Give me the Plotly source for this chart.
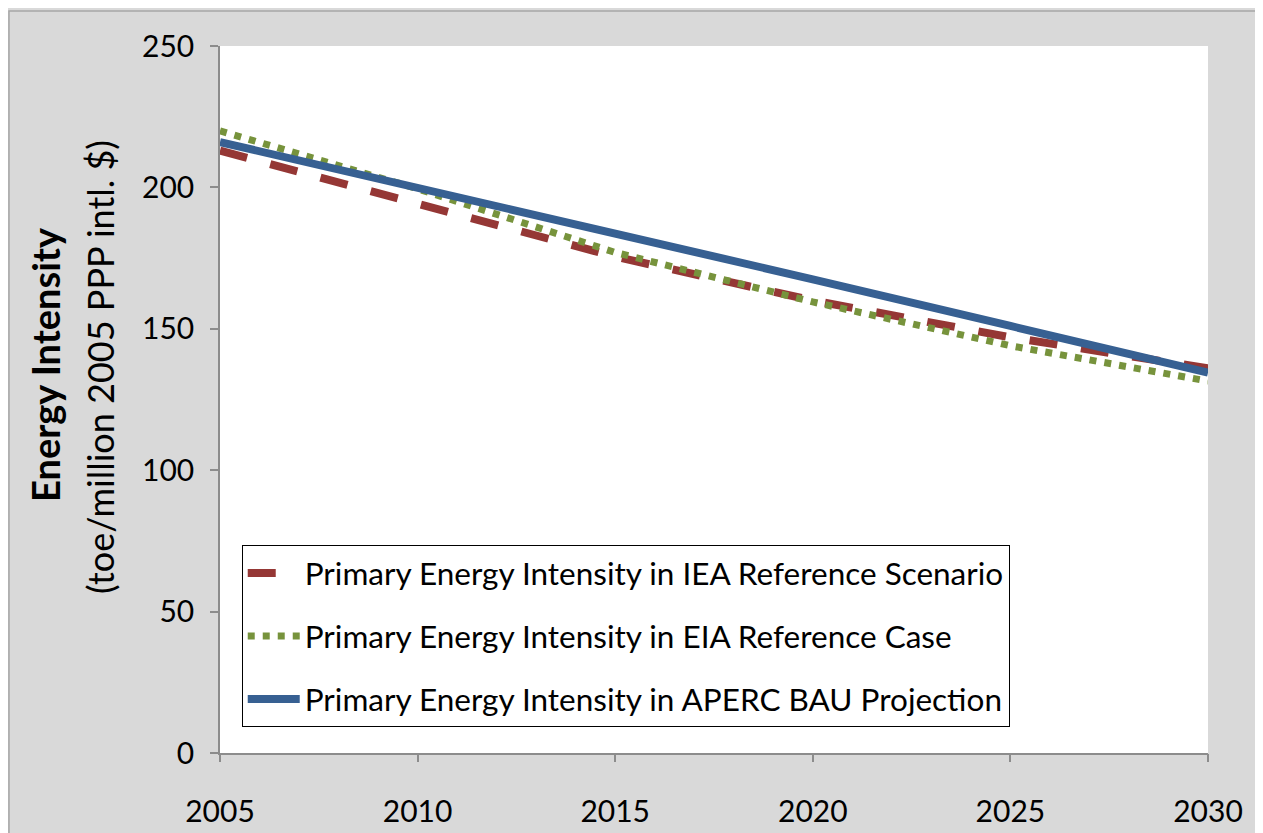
import plotly.graph_objects as go

years = [2005, 2010, 2015, 2020, 2025, 2030]
iea_reference = [213, 194.5, 175.5, 160, 147, 136]
eia_reference = [220, 199.5, 177, 159.5, 144, 131.5]
aperc_bau = [216, 200, 184, 167.5, 151, 134.5]

series_names = [
    "Primary Energy Intensity in IEA Reference Scenario",
    "Primary Energy Intensity in EIA Reference Case",
    "Primary Energy Intensity in APERC BAU Projection",
]
x_ticks = [2005, 2010, 2015, 2020, 2025, 2030]
y_ticks = [0, 50, 100, 150, 200, 250]

FONT = "Lato"
AXIS_GRAY = "#8c8c8c"

fig = go.Figure()
fig.add_trace(go.Scatter(
    x=years, y=iea_reference, name=series_names[0], mode="lines",
    line=dict(color="#953735", width=8, dash="28px,24px"),
    legendgroup="a"))
fig.add_trace(go.Scatter(
    x=years, y=eia_reference, name=series_names[1], mode="lines",
    line=dict(color="#77933C", width=7, dash="7px,8px"),
    legendgroup="b"))
fig.add_trace(go.Scatter(
    x=years, y=aperc_bau, name=series_names[2], mode="lines",
    line=dict(color="#376092", width=8),
    legendgroup="c"))

fig.update_layout(
    width=1263, height=833,
    margin=dict(l=212, r=63, t=38, b=88),
    paper_bgcolor="#d9d9d9",
    plot_bgcolor="#ffffff",
    font=dict(family=FONT, size=29, color="#000000"),
    showlegend=True,
    legend=dict(
        x=0.022, y=0.294, xanchor="left", yanchor="top",
        bgcolor="#ffffff", bordercolor="#000000", borderwidth=1,
        font=dict(family=FONT, size=31.5),
        traceorder="grouped", tracegroupgap=19,
        itemwidth=52,
    ),
    # main x axis: labels placed lower via an invisible long tick
    xaxis=dict(
        range=[2005, 2030], tickvals=x_ticks, showgrid=False, zeroline=False,
        showline=True, linecolor=AXIS_GRAY, linewidth=1.5,
        ticks="outside", ticklen=31, tickcolor="rgba(0,0,0,0)", tickwidth=1.5,
        tickfont=dict(size=30), automargin=False,
    ),
    # overlay x axis: visible short tick marks only
    xaxis2=dict(
        range=[2005, 2030], tickvals=x_ticks, overlaying="x", side="bottom",
        anchor="y", showgrid=False, zeroline=False, showline=False,
        showticklabels=False, automargin=False,
        ticks="outside", ticklen=8, tickcolor=AXIS_GRAY, tickwidth=1.5,
    ),
    yaxis=dict(
        range=[0, 250], tickvals=y_ticks, showgrid=False, zeroline=False,
        showline=True, linecolor=AXIS_GRAY, linewidth=1.5,
        ticks="outside", ticklen=8, tickcolor=AXIS_GRAY, tickwidth=1.5,
        ticklabelstandoff=10, tickfont=dict(size=30), automargin=False,
    ),
    shapes=[dict(
        type="rect", xref="paper", yref="paper",
        x0=-0.2136, x1=1.3, y0=-0.3, y1=1.0495,
        line=dict(color="#a6a6a6", width=1.5), fillcolor="rgba(0,0,0,0)",
        layer="below",
    )],
    annotations=[
        dict(text="<b>Energy Intensity</b>",
             xref="paper", yref="paper", x=-0.1771, y=0.549,
             xanchor="center", yanchor="middle", textangle=-90,
             showarrow=False, font=dict(family=FONT, size=38)),
        dict(text="(toe/million 2005 PPP intl. $)",
             xref="paper", yref="paper", x=-0.1215, y=0.546,
             xanchor="center", yanchor="middle", textangle=-90,
             showarrow=False, font=dict(family=FONT, size=36)),
    ],
)

# invisible helper trace so the overlay axis is drawn
fig.add_trace(go.Scatter(
    x=[years[0]], y=[None], xaxis="x2", yaxis="y", showlegend=False,
    hoverinfo="skip", mode="lines"))

fig.write_html("out.html")
